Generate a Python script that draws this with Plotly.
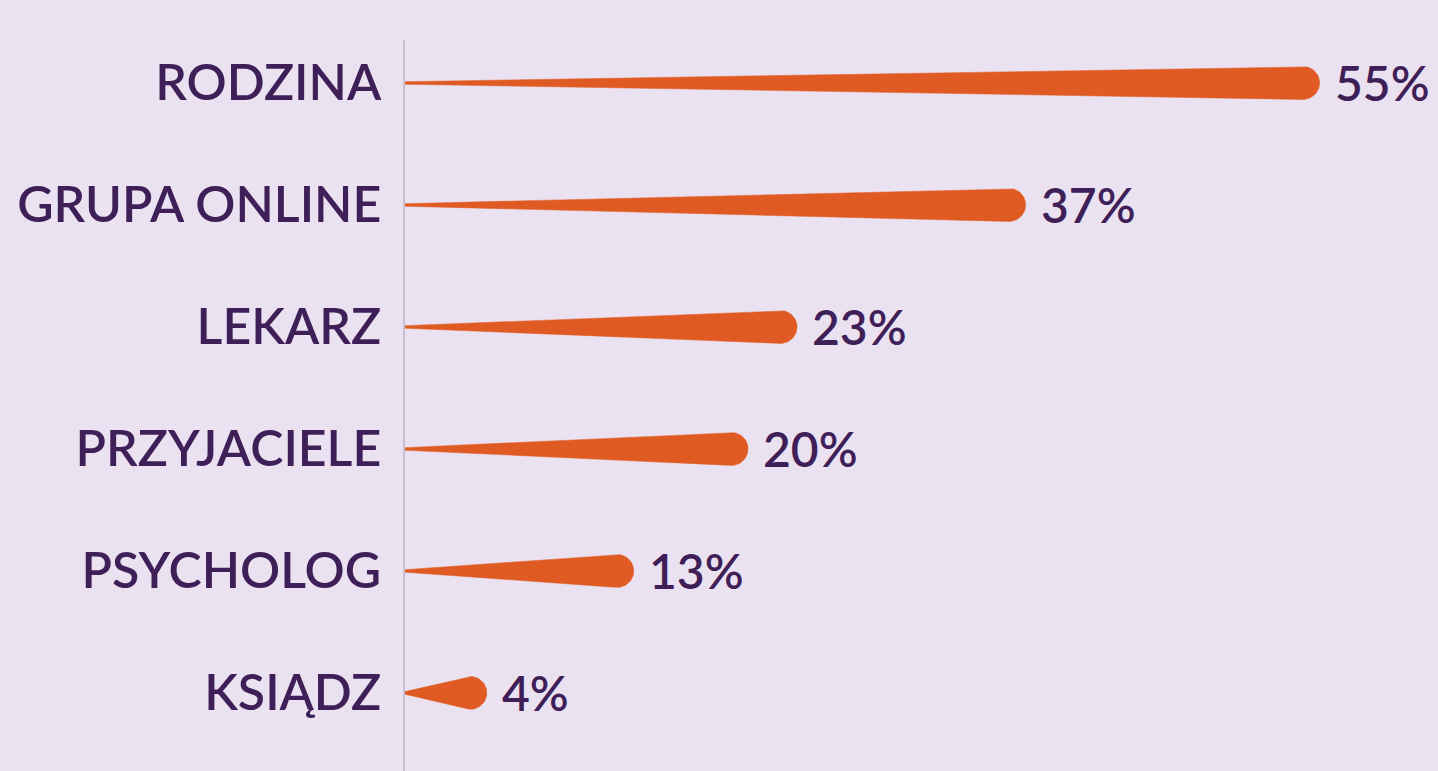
import numpy as np
import plotly.graph_objects as go

categories = ["RODZINA", "GRUPA ONLINE", "LEKARZ", "PRZYJACIELE", "PSYCHOLOG", "KSIĄDZ"]
values = [55, 37, 23, 20, 13, 4]
value_labels = ["55%", "37%", "23%", "20%", "13%", "4%"]

W, H = 1438, 771
ML, MR, MT, MB = 405, 0, 40, 0
plot_w = W - ML - MR
plot_h = H - MT - MB
px_per_pct = 16.33
x_max = plot_w / px_per_pct
y_top, y_bot = -0.352, 5.64
px_per_row = plot_h / (y_bot - y_top)

BG = "#ebe2f1"
BAR = "#e05b23"
TXT = "#3f1f58"
R_PX = 16.5
TIP_PX = 1.3

fig = go.Figure()

for i, v in enumerate(values):
    n = 60
    xs = np.linspace(0, v, n)
    hw = (TIP_PX + (R_PX - TIP_PX) * (xs / v)) / px_per_row
    top_x = list(xs)
    top_y = list(i - hw)
    t = np.linspace(-np.pi / 2, np.pi / 2, 40)
    cap_x = list(v + (R_PX * np.cos(t)) / px_per_pct)
    cap_y = list(i + (R_PX * np.sin(t)) / px_per_row)
    bot_x = list(xs[::-1])
    bot_y = list((i + hw)[::-1])
    fig.add_trace(go.Scatter(
        x=top_x + cap_x + bot_x, y=top_y + cap_y + bot_y, mode="lines",
        fill="toself", fillcolor=BAR,
        line=dict(width=0.5, color=BAR), hoverinfo="skip", showlegend=False,
    ))
    fig.add_annotation(
        x=v, y=i, text=value_labels[i], showarrow=False, xanchor="left",
        yanchor="middle", xshift=R_PX + 13, yshift=0,
        font=dict(family="Lato", size=48, color=TXT, weight=600),
    )

fig.update_layout(
    width=W, height=H,
    margin=dict(l=ML, r=MR, t=MT, b=MB, autoexpand=False),
    paper_bgcolor=BG, plot_bgcolor=BG,
    xaxis=dict(range=[0, x_max], visible=False, showgrid=False, zeroline=False, fixedrange=True),
    yaxis=dict(
        range=[y_bot, y_top], tickmode="array", tickvals=list(range(len(categories))),
        ticktext=categories, showgrid=False, zeroline=False, showline=True,
        linecolor="#c9c0d3", linewidth=1.5, ticks="", ticklabelstandoff=12,
        tickfont=dict(family="Lato", size=50, color=TXT, weight=600),
        automargin=False, fixedrange=True,
    ),
)

fig.write_html("out.html")
